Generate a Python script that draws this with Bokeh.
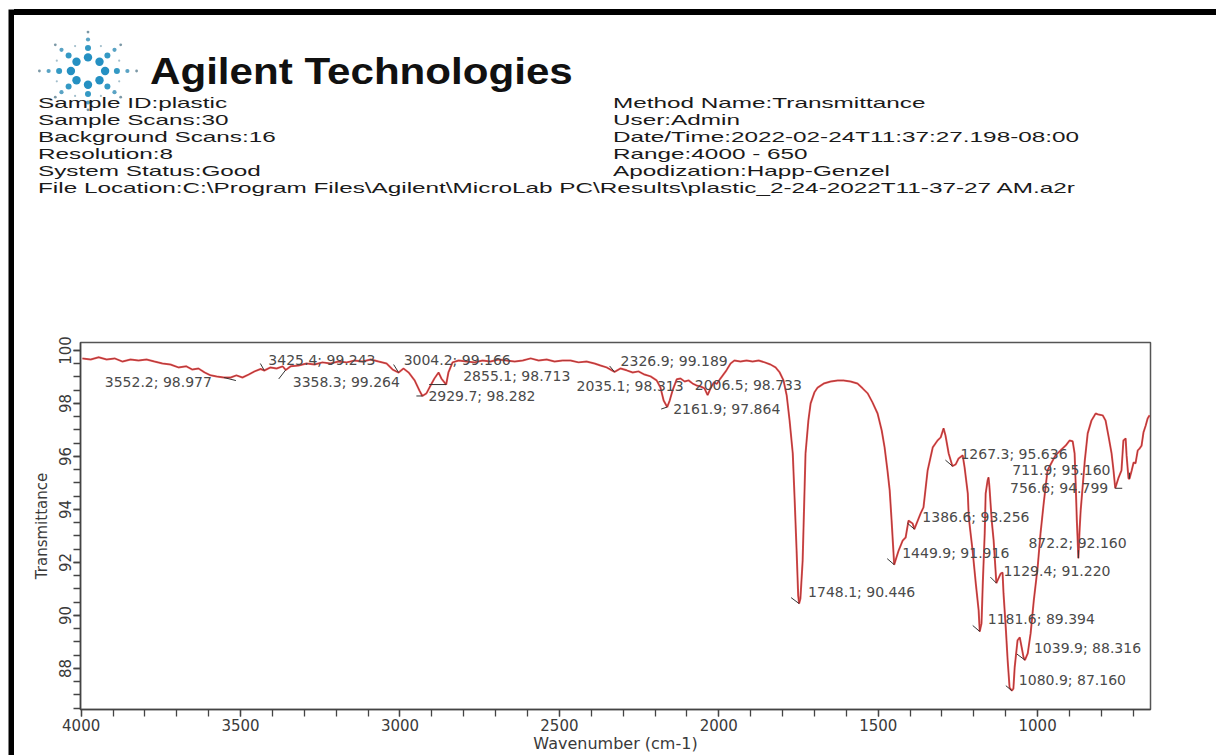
import math
from bokeh.plotting import figure
from bokeh.models import Range1d, SingleIntervalTicker, ColumnDataSource, Spacer, Div
from bokeh.layouts import row, column
from bokeh.embed import file_html
from bokeh.resources import INLINE
from bokeh.core.properties import value

# ---------------- data ----------------
wavenumber = [3996, 3970, 3945, 3920, 3895, 3870, 3845, 3820, 3795, 3770, 3745, 3720, 3695, 3670,
              3651, 3632, 3613, 3594, 3575, 3552.2, 3531, 3513, 3494, 3475, 3456, 3437, 3425.4,
              3406, 3387, 3368, 3358.3, 3343, 3318, 3293, 3268, 3243, 3218, 3193, 3167, 3142,
              3117, 3092, 3067, 3042, 3023, 3004.2, 2989, 2973, 2954, 2939, 2929.7, 2917, 2904,
              2892, 2879, 2870, 2855.1, 2848, 2835, 2816, 2791, 2766, 2741, 2716, 2691, 2666,
              2640, 2615, 2590, 2565, 2540, 2515, 2490, 2465, 2440, 2415, 2390, 2371, 2352,
              2326.9, 2308, 2289, 2270, 2252, 2233, 2214, 2195, 2183, 2173, 2161.9, 2154, 2145,
              2132, 2120, 2107, 2095, 2082, 2070, 2057, 2045, 2035.1, 2026, 2015, 2006.5, 1995,
              1976, 1963, 1951, 1932, 1913, 1894, 1875, 1856, 1838, 1822, 1809, 1797, 1787,
              1778, 1768, 1762, 1756, 1751, 1748.1, 1744, 1737, 1728, 1719, 1712, 1700, 1690,
              1671, 1649, 1627, 1609, 1587, 1565, 1549, 1533, 1518, 1502, 1489, 1480, 1471,
              1464, 1458, 1449.9, 1436, 1423, 1414, 1405, 1392, 1386.6, 1376, 1367, 1358, 1345,
              1329, 1314, 1304, 1295, 1289, 1279, 1267.3, 1257, 1248, 1235, 1229, 1219, 1216,
              1204, 1194, 1185, 1181.6, 1176, 1172, 1166, 1163, 1157, 1154, 1151, 1144, 1138,
              1129.4, 1116, 1110, 1107, 1100, 1094, 1088, 1080.9, 1076, 1072, 1063, 1056, 1050,
              1044, 1039.9, 1031, 1022, 1012, 1000, 991, 981, 969, 956, 944, 928, 912, 900, 890,
              884, 881, 877, 872.2, 868, 865, 859, 852, 843, 831, 818, 809, 796, 787, 777, 768,
              762, 756.6, 747, 737, 731, 724, 721, 715, 711.9, 705, 699, 693, 686, 680, 674,
              668, 661, 655, 649]
transmittance = [99.70, 99.66, 99.74, 99.66, 99.70, 99.58, 99.66, 99.62, 99.66, 99.58, 99.51, 99.47,
                 99.36, 99.40, 99.28, 99.32, 99.17, 99.06, 99.02, 98.977, 98.98, 99.06, 98.98,
                 99.09, 99.21, 99.30, 99.243, 99.36, 99.32, 99.40, 99.264, 99.40, 99.43, 99.51,
                 99.47, 99.55, 99.51, 99.58, 99.55, 99.62, 99.58, 99.66, 99.58, 99.51, 99.28,
                 99.166, 99.32, 99.17, 98.87, 98.49, 98.282, 98.38, 98.68, 98.94, 99.17, 98.94,
                 98.713, 99.17, 99.55, 99.62, 99.58, 99.55, 99.62, 99.58, 99.66, 99.62, 99.58,
                 99.62, 99.70, 99.62, 99.66, 99.58, 99.62, 99.62, 99.55, 99.58, 99.51, 99.43,
                 99.36, 99.189, 99.32, 99.25, 99.17, 99.21, 99.09, 99.02, 98.87, 98.60, 98.11,
                 97.864, 98.11, 98.49, 98.91, 98.94, 98.83, 98.87, 98.75, 98.68, 98.64, 98.57,
                 98.313, 98.57, 98.80, 98.733, 98.94, 99.25, 99.51, 99.62, 99.58, 99.62, 99.58,
                 99.62, 99.55, 99.47, 99.36, 99.17, 98.87, 98.30, 97.36, 96.11, 94.34, 92.45,
                 90.75, 90.446, 90.64, 92.07, 96.11, 97.36, 98.00, 98.42, 98.60, 98.75, 98.83,
                 98.87, 98.87, 98.83, 98.75, 98.57, 98.38, 98.04, 97.62, 96.98, 96.34, 95.47,
                 94.72, 93.58, 91.916, 92.45, 92.83, 92.94, 93.58, 93.47, 93.256, 93.58, 93.85,
                 94.08, 95.47, 96.34, 96.60, 96.72, 97.06, 96.79, 96.11, 95.636, 95.70, 95.92,
                 96.04, 95.58, 94.60, 93.70, 92.45, 91.21, 90.19, 89.394, 89.70, 91.21, 93.09,
                 94.60, 95.09, 95.21, 94.83, 93.58, 92.83, 91.220, 91.58, 91.62, 90.83, 89.55,
                 88.30, 87.28, 87.160, 87.24, 88.04, 89.06, 89.17, 88.79, 88.41, 88.316, 88.57,
                 89.32, 90.57, 91.81, 93.09, 94.23, 95.47, 95.77, 96.04, 96.23, 96.41, 96.60,
                 96.57, 96.11, 95.09, 93.58, 92.160, 93.32, 93.96, 94.83, 95.85, 96.87, 97.36,
                 97.62, 97.58, 97.55, 97.36, 96.72, 96.11, 95.47, 94.799, 95.17, 95.47, 96.60,
                 96.68, 96.04, 95.17, 95.160, 95.47, 95.77, 95.74, 96.23, 96.30, 96.41, 96.91,
                 97.17, 97.43, 97.55]

peak_wn = [3552.2, 3425.4, 3358.3, 3004.2, 2929.7, 2855.1, 2326.9, 2161.9, 2035.1, 2006.5,
           1748.1, 1449.9, 1386.6, 1267.3, 1181.6, 1129.4, 1080.9, 1039.9, 872.2, 756.6, 711.9]
peak_T = [98.977, 99.243, 99.264, 99.166, 98.282, 98.713, 99.189, 97.864, 98.313, 98.733,
          90.446, 91.916, 93.256, 95.636, 89.394, 91.220, 87.160, 88.316, 92.160, 94.799, 95.160]
peak_labels = [f"{w:.1f}; {t:.3f}" for w, t in zip(peak_wn, peak_T)]

info_left = ["Sample ID:plastic", "Sample Scans:30", "Background Scans:16", "Resolution:8",
             "System Status:Good",
             "File Location:C:\\Program Files\\Agilent\\MicroLab PC\\Results\\plastic_2-24-2022T11-37-27 AM.a2r"]
info_right = ["Method Name:Transmittance", "User:Admin", "Date/Time:2022-02-24T11:37:27.198-08:00",
              "Range:4000 - 650", "Apodization:Happ-Genzel"]

x_label = "Wavenumber (cm-1)"
y_label = "Transmittance"
brand = "Agilent Technologies"

# ---------------- styling / layout (screen px) ----------------
label_dx = [-12, 4, 7, 5, 6, 17, 6, 6, -24, -22, 9, 8, 8, 8, 8, 7, 7, 9, -50, -7, -19]
label_dy = [4, -11, 12, -13, 0, -9, -11, 2, -9, 1, -12, -12, -12, -12, -12, -12, -11, -12, -15, 0, -9]
label_align = ["right", "left", "left", "left", "left", "left", "left", "left", "right", "left",
               "left", "left", "left", "left", "left", "left", "left", "left", "left", "right", "right"]
lead_dx = [-12, 4, 7, 5, 6, 17, 5, 6, 0, 0, 8, 7, 7, 7, 7, 6, 6, 8, 0, -7, 0]
lead_dy = [3, -7, 9, -8, 0, 0, -6, 2, 0, 0, -6, -6, -6, -6, -6, -6, -5, -6, -8, 0, -6]

FONT = "DejaVu Sans"
HFONT = "Liberation Sans"

PAGE_W, PAGE_H = 1216, 755
BORDER_X, BORDER_Y, BORDER_T = 8, 9, 6
HEADER_H = 200
CHART_LEFT = BORDER_X + BORDER_T
CHART_TOP = BORDER_Y + HEADER_H
FRAME_L, FRAME_R, FRAME_T, FRAME_B = 80, 1150, 342, 709
X0, X1 = 4002, 646
Y0, Y1 = 86.45, 100.3


def kx(dpx):
    return dpx * (X0 - X1) / (FRAME_R - FRAME_L)


def ky(dpx):
    return dpx * (Y1 - Y0) / (FRAME_B - FRAME_T)


left_bar = figure(width=BORDER_T, height=PAGE_H - BORDER_Y, toolbar_location=None,
                  output_backend="svg", x_axis_type=None, y_axis_type=None, min_border=0,
                  background_fill_color="black", border_fill_color="black",
                  outline_line_color=None, x_range=Range1d(0, 1), y_range=Range1d(0, 1))
left_bar.grid.visible = False

chart_w = PAGE_W - CHART_LEFT
chart_h = PAGE_H - CHART_TOP


# ---------------- header block ----------------
def pos(px, py):
    return px - CHART_LEFT, py - BORDER_Y


circles = []
cx, cy = pos(88, 71)
radii = [13, 22, 30, 37]
rads = [4.2, 3.0, 2.1, 1.4]
cols = ["#2590c2", "#3499c4", "#5aa3c4", "#7b98a6"]
for k in range(8):
    a = k * math.pi / 4
    extra = 1.05 if k % 2 == 0 else 1.0
    for r, s, c in zip(radii, rads, cols):
        circles.append(f'<circle cx="{cx + 1.25 * r * extra * math.cos(a):.1f}" '
                       f'cy="{cy - r * extra * math.sin(a):.1f}" r="{s}" fill="{c}"/>')
for k in range(8):
    a = k * math.pi / 4 + math.pi / 8
    circles.append(f'<circle cx="{cx + 1.25 * 27 * math.cos(a):.1f}" '
                   f'cy="{cy - 27 * math.sin(a):.1f}" r="1.1" fill="#a3bfcc"/>')

parts = [f'<div style="position:relative;width:{chart_w}px;height:{HEADER_H}px;'
         f'font-family:\'{HFONT}\';color:#1a1a1a;white-space:nowrap;">',
         f'<div style="position:absolute;left:0;top:0;width:{chart_w}px;height:{BORDER_T}px;'
         f'background:#000;"></div>',
         f'<svg style="position:absolute;left:0;top:0;" width="200" height="{HEADER_H}">'
         + "".join(circles) + '</svg>']
bx, by = pos(150, 84 - 30.5)
parts.append(f'<span style="position:absolute;display:inline-block;left:{bx}px;top:{by:.1f}px;'
             f'font-size:36px;line-height:36px;height:36px;font-weight:bold;color:#111;'
             f'transform:scaleX(1.17);transform-origin:0 0;">{brand}</span>')
line_y = [102, 119, 136, 153, 170, 187]
for col_x, texts in ((38, info_left), (613, info_right)):
    for t, yy in zip(texts, line_y):
        lx, ly = pos(col_x, yy - 7.0)
        parts.append(f'<span style="position:absolute;display:inline-block;left:{lx}px;'
                     f'top:{ly:.1f}px;font-size:15px;line-height:15px;height:15px;'
                     f'transform:scaleX(1.62);transform-origin:0 0;">{t}</span>')
parts.append('</div>')
header = Div(text="".join(parts), width=chart_w, height=HEADER_H, margin=0)

# ---------------- spectrum chart ----------------
p = figure(width=chart_w, height=chart_h, toolbar_location=None, output_backend="svg",
           x_range=Range1d(X0, X1), y_range=Range1d(Y0, Y1),
           min_border_left=FRAME_L - CHART_LEFT, min_border_right=PAGE_W - FRAME_R,
           min_border_top=FRAME_T - CHART_TOP, min_border_bottom=PAGE_H - FRAME_B,
           background_fill_color="white", border_fill_color="white")
p.grid.visible = False
p.outline_line_color = "#555555"
p.outline_line_width = 1.5

p.xaxis.ticker = SingleIntervalTicker(interval=500, num_minor_ticks=5)
p.yaxis.ticker = SingleIntervalTicker(interval=2, num_minor_ticks=4)
p.yaxis.major_label_orientation = "vertical"
for ax in (p.xaxis, p.yaxis):
    ax.axis_line_color = "#444444"
    ax.axis_line_width = 1.5
    ax.major_tick_line_color = "#444444"
    ax.minor_tick_line_color = "#444444"
    ax.major_tick_line_width = 1.3
    ax.minor_tick_line_width = 1.3
    ax.major_tick_in = 0
    ax.minor_tick_in = 0
    ax.major_tick_out = 7
    ax.minor_tick_out = 7
    ax.major_label_text_font = FONT
    ax.major_label_text_font_size = "15px"
    ax.major_label_text_color = "#3a3a3a"
    ax.major_label_standoff = 2
    ax.axis_label_text_font = FONT
    ax.axis_label_text_font_style = "normal"
    ax.axis_label_text_color = "#3a3a3a"
    ax.axis_label_standoff = 0
p.xaxis.axis_label_text_font_size = "16px"
p.yaxis.axis_label_text_font_size = "15px"
p.yaxis.axis_label_standoff = 6
p.xaxis.axis_label = x_label
p.yaxis.axis_label = y_label

p.line(wavenumber, transmittance, line_color="#e63c3c", line_width=2.0, line_alpha=0.85)
p.line(wavenumber, transmittance, line_color="#6a1515", line_width=0.6, line_alpha=0.8)

lead_x1 = [w + kx(d) for w, d in zip(peak_wn, lead_dx)]
lead_y1 = [t - ky(d) for t, d in zip(peak_T, lead_dy)]
p.segment(x0=peak_wn, y0=peak_T, x1=lead_x1, y1=lead_y1, line_color="#333333", line_width=1)

src = ColumnDataSource(dict(x=peak_wn, y=peak_T, text=peak_labels,
                            dx=label_dx, dy=label_dy, align=label_align))
p.text(x="x", y="y", text="text", x_offset="dx", y_offset="dy", text_align="align",
       source=src, text_baseline="middle", text_font=value(FONT), text_font_size="14px",
       text_color="#4a4a4a")

layout = row(Spacer(width=BORDER_X, height=PAGE_H),
             column(Spacer(width=BORDER_T, height=BORDER_Y), left_bar),
             column(Spacer(width=chart_w, height=BORDER_Y), header, p))
open("out.html", "w").write(file_html(layout, INLINE))
